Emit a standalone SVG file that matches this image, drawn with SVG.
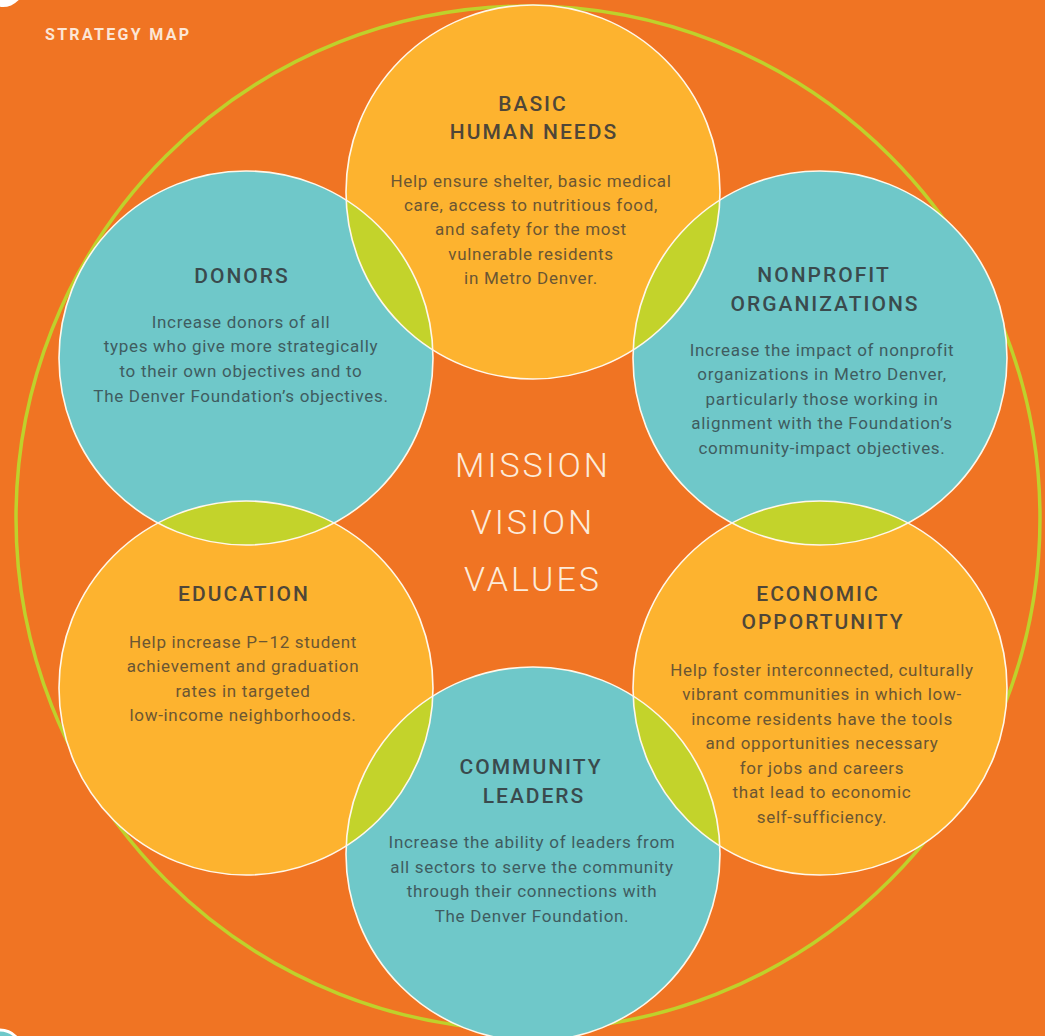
<svg xmlns="http://www.w3.org/2000/svg" xmlns:xlink="http://www.w3.org/1999/xlink" width="1045" height="1036" viewBox="0 0 1045 1036">
<style>
.bg{fill:#F07423}
.ring{fill:none;stroke:#BFD12B;stroke-width:3.5}
.yc{fill:#FDB32F}
.tc{fill:#6FC8C9}
.lens{fill:#C3D32B}
.edge{fill:none;stroke:#FFF7EA;stroke-width:1.6}
.ttl{font-family:Roboto,"Liberation Sans",sans-serif;font-weight:500;font-size:21px;letter-spacing:2px;text-anchor:middle}
.body{font-family:Roboto,"Liberation Sans",sans-serif;font-size:17px;letter-spacing:0.7px;text-anchor:middle}
.ty{fill:#4F4638}
.by{fill:#6B5633}
.tt{fill:#3A4A4D}
.bt{fill:#3F5C60}
.mvv{font-family:Roboto,"Liberation Sans",sans-serif;font-weight:300;font-size:34px;letter-spacing:3px;fill:#FCEBDA;text-anchor:middle}
.head{font-family:Roboto,"Liberation Sans",sans-serif;font-weight:700;font-size:16px;letter-spacing:2.3px;fill:#FCE6D6}
</style>
<defs>
<circle id="cB" cx="533" cy="192" r="187"/>
<circle id="cN" cx="820" cy="358" r="187"/>
<circle id="cE" cx="820" cy="688" r="187"/>
<circle id="cC" cx="533" cy="854" r="187"/>
<circle id="cU" cx="246" cy="688" r="187"/>
<circle id="cD" cx="246" cy="358" r="187"/>
<clipPath id="kB"><use xlink:href="#cB"/></clipPath>
<clipPath id="kN"><use xlink:href="#cN"/></clipPath>
<clipPath id="kE"><use xlink:href="#cE"/></clipPath>
<clipPath id="kC"><use xlink:href="#cC"/></clipPath>
<clipPath id="kU"><use xlink:href="#cU"/></clipPath>
<clipPath id="kD"><use xlink:href="#cD"/></clipPath>
</defs>
<rect class="bg" x="0" y="0" width="1045" height="1036"/>
<circle cx="3" cy="-14" r="21" fill="#FFFFFF"/>
<circle cx="0" cy="1052" r="22" fill="#6FC8C9" stroke="#FFFFFF" stroke-width="3"/>
<circle class="ring" cx="528" cy="518" r="512"/>
<text class="head" x="45" y="40">STRATEGY MAP</text>
<g id="center">
<text class="mvv" x="533" y="477">MISSION</text>
<text class="mvv" x="533" y="534">VISION</text>
<text class="mvv" x="533" y="591">VALUES</text>
</g>
<g id="basic-human-needs">
<use xlink:href="#cB" class="yc"/>
<text class="ttl ty" x="533" y="111">BASIC</text>
<text class="ttl ty" x="534" y="139">HUMAN NEEDS</text>
<text class="body by" x="531" y="187">Help ensure shelter, basic medical</text>
<text class="body by" x="531" y="211">care, access to nutritious food,</text>
<text class="body by" x="531" y="235">and safety for the most</text>
<text class="body by" x="531" y="260">vulnerable residents</text>
<text class="body by" x="531" y="284">in Metro Denver.</text>
</g>
<g id="donors">
<use xlink:href="#cD" class="tc"/>
<text class="ttl tt" x="242" y="283">DONORS</text>
<text class="body bt" x="241" y="328">Increase donors of all</text>
<text class="body bt" x="241" y="352">types who give more strategically</text>
<text class="body bt" x="241" y="377">to their own objectives and to</text>
<text class="body bt" x="241" y="402">The Denver Foundation’s objectives.</text>
</g>
<g id="nonprofit-organizations">
<use xlink:href="#cN" class="tc"/>
<text class="ttl tt" x="824" y="282">NONPROFIT</text>
<text class="ttl tt" x="825" y="311">ORGANIZATIONS</text>
<text class="body bt" x="822" y="356">Increase the impact of nonprofit</text>
<text class="body bt" x="822" y="380">organizations in Metro Denver,</text>
<text class="body bt" x="822" y="405">particularly those working in</text>
<text class="body bt" x="822" y="429">alignment with the Foundation’s</text>
<text class="body bt" x="822" y="454">community-impact objectives.</text>
</g>
<g id="education">
<use xlink:href="#cU" class="yc"/>
<text class="ttl ty" x="244" y="601">EDUCATION</text>
<text class="body by" x="243" y="648">Help increase P–12 student</text>
<text class="body by" x="243" y="672">achievement and graduation</text>
<text class="body by" x="243" y="697">rates in targeted</text>
<text class="body by" x="243" y="721">low-income neighborhoods.</text>
</g>
<g id="economic-opportunity">
<use xlink:href="#cE" class="yc"/>
<text class="ttl ty" x="818" y="601">ECONOMIC</text>
<text class="ttl ty" x="823" y="629">OPPORTUNITY</text>
<text class="body by" x="822" y="676">Help foster interconnected, culturally</text>
<text class="body by" x="822" y="700">vibrant communities in which low-</text>
<text class="body by" x="822" y="725">income residents have the tools</text>
<text class="body by" x="822" y="749">and opportunities necessary</text>
<text class="body by" x="822" y="774">for jobs and careers</text>
<text class="body by" x="822" y="798">that lead to economic</text>
<text class="body by" x="822" y="823">self-sufficiency.</text>
</g>
<g id="community-leaders">
<use xlink:href="#cC" class="tc"/>
<text class="ttl tt" x="531" y="774">COMMUNITY</text>
<text class="ttl tt" x="534" y="803">LEADERS</text>
<text class="body bt" x="532" y="848">Increase the ability of leaders from</text>
<text class="body bt" x="532" y="873">all sectors to serve the community</text>
<text class="body bt" x="532" y="897">through their connections with</text>
<text class="body bt" x="532" y="922">The Denver Foundation.</text>
</g>
<g id="connectors">
<use xlink:href="#cD" class="lens" clip-path="url(#kB)"/>
<use xlink:href="#cN" class="lens" clip-path="url(#kB)"/>
<use xlink:href="#cU" class="lens" clip-path="url(#kD)"/>
<use xlink:href="#cE" class="lens" clip-path="url(#kN)"/>
<use xlink:href="#cC" class="lens" clip-path="url(#kU)"/>
<use xlink:href="#cC" class="lens" clip-path="url(#kE)"/>
<use xlink:href="#cB" class="edge"/>
<use xlink:href="#cN" class="edge"/>
<use xlink:href="#cE" class="edge"/>
<use xlink:href="#cC" class="edge"/>
<use xlink:href="#cU" class="edge"/>
<use xlink:href="#cD" class="edge"/>
</g>
</svg>
